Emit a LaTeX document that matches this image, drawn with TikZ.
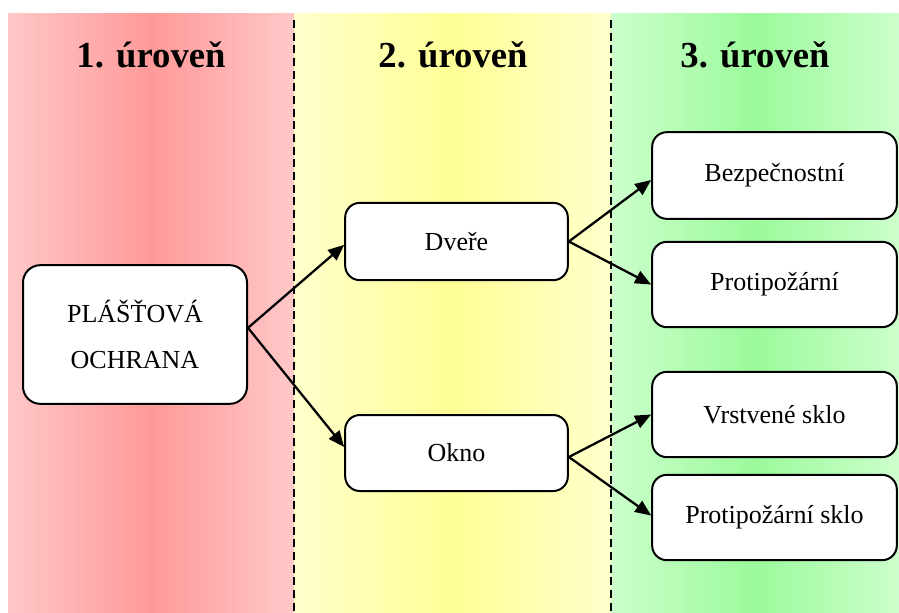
\documentclass[tikz,border=0pt]{standalone}
\usepackage{fontspec}
\setmainfont{Liberation Serif}
\usetikzlibrary{arrows.meta}

\definecolor{redEdge}{RGB}{255,200,200}
\definecolor{redMid}{RGB}{255,153,153}
\definecolor{yelEdge}{RGB}{255,255,204}
\definecolor{yelMid}{RGB}{255,255,150}
\definecolor{grnEdge}{RGB}{204,255,204}
\definecolor{grnMid}{RGB}{155,250,155}

\tikzset{
  level title/.style={anchor=base, font=\fontsize{27.5}{33}\selectfont\bfseries},
  itembox/.style={draw=black, line width=1.5pt, fill=white, rounded corners=11pt,
    inner sep=0pt, align=center, font=\fontsize{19.5}{34.5}\selectfont},
  link/.style={line width=1.7pt, -{Triangle[length=12pt,width=10pt]}},
  divider/.style={line width=1.2pt, dash pattern=on 6pt off 3.5pt},
  band/.style 2 args={left color=#1, right color=#1, middle color=#2}
}

\begin{document}
\begin{tikzpicture}[x=0.75pt,y=-0.75pt]
\useasboundingbox (0,0) rectangle (899,612);

% level bands, light at the edges and deeper in the middle
\shade[band={redEdge}{redMid}] (8,13) rectangle (294,612);
\shade[band={yelEdge}{yelMid}] (294,13) rectangle (611,612);
\shade[band={grnEdge}{grnMid}] (611,13) rectangle (899,612);

\draw[divider] (294,20) -- (294,612);
\draw[divider] (611,20) -- (611,612);

% level headings
\node[level title] (t1) at (151,67) {1. úroveň};
\node[level title] (t2) at (453,67) {2. úroveň};
\node[level title] (t3) at (755,67) {3. úroveň};

% boxes
\node[itembox, rounded corners=13pt, minimum width=168pt, minimum height=104pt] (root) at (135,334.5) {PLÁŠŤOVÁ\\OCHRANA};
\node[itembox, minimum width=167pt, minimum height=58pt] (dvere) at (456.5,241.5) {Dveře};
\node[itembox, minimum width=167pt, minimum height=57pt] (okno) at (456.5,453) {Okno};
\node[itembox, minimum width=183.5pt, minimum height=65pt] (bez) at (774.5,175.5) {Bezpečnostní};
\node[itembox, minimum width=183.5pt, minimum height=64pt] (pro) at (774.5,284.5) {Protipožární};
\node[itembox, minimum width=183.5pt, minimum height=64pt] (vrs) at (774.5,414.5) {Vrstvené sklo};
\node[itembox, minimum width=183.5pt, minimum height=64pt] (prs) at (774.5,517.5) {Protipožární sklo};

% connectors
\draw[link] ([yshift=5pt]root.east) -- ([yshift=-2.5pt]dvere.west);
\draw[link] ([yshift=5pt]root.east) -- ([yshift=4.5pt]okno.west);
\draw[link] (dvere.east) -- ([yshift=-3.4pt]bez.west);
\draw[link] (dvere.east) -- (pro.west);
\draw[link] ([yshift=-3pt]okno.east) -- (vrs.west);
\draw[link] ([yshift=-3pt]okno.east) -- ([yshift=1.5pt]prs.west);
\end{tikzpicture}
\end{document}
